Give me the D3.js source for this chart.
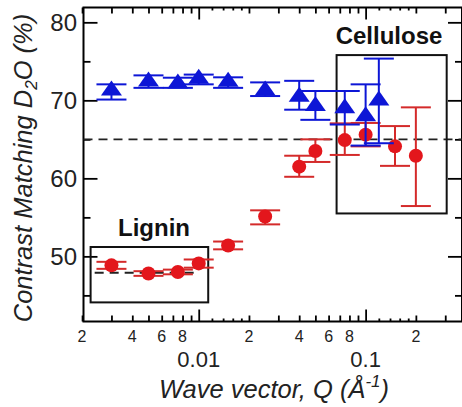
<!DOCTYPE html>
<html><head><meta charset="utf-8">
<script src="https://cdn.jsdelivr.net/npm/d3@7"></script>
<style>html,body{margin:0;padding:0;background:#fff;}svg{display:block;font-family:"Liberation Sans",Arial,sans-serif;}</style>
</head><body>
<svg id="chart" width="462" height="407"></svg>
<script>
// Blue triangles
const qBlue   = [0.003, 0.005, 0.0075, 0.01, 0.015, 0.025, 0.04, 0.05, 0.075, 0.1, 0.12];
const blueVal = [71.4, 72.55, 72.3, 72.9, 72.5, 71.4, 70.6, 69.4, 69.1, 68.1, 70.1];
const blueLo  = [70.1, 71.6, 71.6, 72.05, 71.6, 70.55, 68.8, 67.5, 66.9, 64.2, 64.5];
const blueHi  = [72.05, 73.2, 72.9, 73.3, 72.95, 72.3, 72.5, 71.2, 71.2, 72.05, 75.35];
// Red circles
const qRed   = [0.003, 0.005, 0.0075, 0.01, 0.015, 0.025, 0.04, 0.05, 0.075, 0.1, 0.15, 0.2];
const redVal = [48.85, 47.8, 48.0, 49.1, 51.4, 55.1, 61.5, 63.5, 64.9, 65.6, 64.1, 62.9];
const redLo  = [48.4, 47.5, 47.7, 48.55, 50.9, 54.1, 60.2, 62.1, 63.0, 64.1, 61.6, 56.45];
const redHi  = [49.3, 48.1, 48.3, 49.6, 51.9, 55.9, 62.9, 65.0, 67.05, 67.1, 66.7, 69.1];
// Reference lines / boxes
const refLine = 65;
const ligninLine = {q: [0.00238, 0.01], v: 47.9};
const ligninBox = {q: [0.00225, 0.0114], v: [44.1, 51.2]};
const celluloseBox = {q: [0.067, 0.306], v: [55.5, 75.8]};
// Ticks
const yMajor = [50, 60, 70, 80];
const yMinor = [45, 55, 65, 75];
const xMajor = [0.01, 0.1];
const xMid = [0.002,0.003,0.004,0.005,0.006,0.007,0.008,0.009,0.02,0.03,0.04,0.05,0.06,0.07,0.08,0.09,0.2,0.3];
const xSmall = [0.012,0.014,0.016,0.018,0.12,0.14,0.16,0.18];
const xSmallLabels = [{q:0.002,t:"2"},{q:0.004,t:"4"},{q:0.006,t:"6"},{q:0.008,t:"8"},{q:0.02,t:"2"},{q:0.04,t:"4"},{q:0.06,t:"6"},{q:0.08,t:"8"},{q:0.2,t:"2"}];
const xBigLabels = [{q:0.01,t:"0.01"},{q:0.1,t:"0.1"}];

const L = 83.5, R = 462, T = 7.5, B = 321.5;
const x = d3.scaleLog().domain([0.00204, 0.378]).range([L, R]);
const y = d3.scaleLinear().domain([41.65, 81.9]).range([B, T]);

const svg = d3.select("#chart");
const blue = "#0d16d6", red = "#e3161c", redBar = "#d42a2a";

// Frame
svg.append("rect").attr("x", L).attr("y", T).attr("width", R - L).attr("height", B - T)
  .attr("fill", "none").attr("stroke", "#000").attr("stroke-width", 2);

function ticksX(vals, len) {
  const gb = svg.append("g").attr("transform", `translate(0,${B})`)
    .call(d3.axisBottom(x).tickValues(vals).tickSize(-len).tickFormat(""));
  const gt = svg.append("g").attr("transform", `translate(0,${T})`)
    .call(d3.axisTop(x).tickValues(vals).tickSize(-len).tickFormat(""));
  [gb, gt].forEach(g => { g.select(".domain").remove(); g.selectAll("line").attr("stroke", "#000").attr("stroke-width", 1.8); });
}
ticksX(xMajor, 12);
ticksX(xMid, 6);
ticksX(xSmall, 3);
function ticksY(vals, len) {
  const gl = svg.append("g").attr("transform", `translate(${L},0)`)
    .call(d3.axisLeft(y).tickValues(vals).tickSize(-len).tickFormat(""));
  const gr = svg.append("g").attr("transform", `translate(${R},0)`)
    .call(d3.axisRight(y).tickValues(vals).tickSize(-len).tickFormat(""));
  [gl, gr].forEach(g => { g.select(".domain").remove(); g.selectAll("line").attr("stroke", "#000").attr("stroke-width", 1.8); });
}
ticksY(yMajor, 14);
ticksY(yMinor, 7);

// Labels
svg.selectAll("text.yl").data(yMajor).join("text").attr("class", "yl")
  .attr("x", 77).attr("y", d => y(d) + 8.5).attr("text-anchor", "end")
  .attr("font-size", 24).attr("fill", "#222").text(d => d);
svg.selectAll("text.xs").data(xSmallLabels).join("text").attr("class", "xs")
  .attr("x", d => x(d.q)).attr("y", 342).attr("text-anchor", "middle")
  .attr("font-size", 16).attr("fill", "#222").text(d => d.t);
svg.selectAll("text.xb").data(xBigLabels).join("text").attr("class", "xb")
  .attr("x", d => x(d.q)).attr("y", 367).attr("text-anchor", "middle")
  .attr("font-size", 22).attr("fill", "#222").text(d => d.t);

const xl = svg.append("text").attr("x", 274).attr("y", 398).attr("text-anchor", "middle")
  .attr("font-size", 25.5).attr("font-style", "italic").attr("fill", "#222");
xl.append("tspan").text("Wave vector, Q (Å");
xl.append("tspan").attr("font-size", 17).attr("dy", -11).text("-1");
xl.append("tspan").attr("dy", 11).text(")");

const yl = svg.append("text").attr("transform", "translate(32,168) rotate(-90)")
  .attr("text-anchor", "middle").attr("font-size", 25.5).attr("font-style", "italic").attr("fill", "#222");
yl.append("tspan").text("Contrast Matching D");
yl.append("tspan").attr("font-size", 17).attr("dy", 5).text("2");
yl.append("tspan").attr("dy", -5).text("O (%)");

// Reference dashed lines
svg.append("line").attr("x1", L).attr("x2", R).attr("y1", y(refLine)).attr("y2", y(refLine))
  .attr("stroke", "#222").attr("stroke-width", 1.8).attr("stroke-dasharray", "9,6");
svg.append("line").attr("x1", x(ligninLine.q[0])).attr("x2", x(ligninLine.q[1]))
  .attr("y1", y(ligninLine.v)).attr("y2", y(ligninLine.v))
  .attr("stroke", "#222").attr("stroke-width", 1.8).attr("stroke-dasharray", "9,6");

// Boxes
[ligninBox, celluloseBox].forEach(b => {
  svg.append("rect").attr("x", x(b.q[0])).attr("y", y(b.v[1]))
    .attr("width", x(b.q[1]) - x(b.q[0])).attr("height", y(b.v[0]) - y(b.v[1]))
    .attr("fill", "none").attr("stroke", "#111").attr("stroke-width", 2);
});
svg.append("text").attr("x", 154).attr("y", 236).attr("text-anchor", "middle")
  .attr("font-size", 24).attr("font-weight", "bold").attr("fill", "#111").text("Lignin");
svg.append("text").attr("x", 389).attr("y", 44).attr("text-anchor", "middle")
  .attr("font-size", 24).attr("font-weight", "bold").attr("fill", "#111").text("Cellulose");

// Error bars
function errBars(qs, lo, hi, color) {
  const g = svg.append("g").attr("stroke", color).attr("stroke-width", 2).attr("fill", "none");
  qs.forEach((q, i) => {
    const cx = x(q);
    g.append("line").attr("x1", cx).attr("x2", cx).attr("y1", y(lo[i])).attr("y2", y(hi[i]));
    g.append("line").attr("x1", cx - 15).attr("x2", cx + 15).attr("y1", y(lo[i])).attr("y2", y(lo[i]));
    g.append("line").attr("x1", cx - 15).attr("x2", cx + 15).attr("y1", y(hi[i])).attr("y2", y(hi[i]));
  });
}
errBars(qRed, redLo, redHi, redBar);
svg.append("g").selectAll("circle").data(qRed).join("circle")
  .attr("cx", d => x(d)).attr("cy", (d, i) => y(redVal[i])).attr("r", 7).attr("fill", red);

errBars(qBlue, blueLo, blueHi, blue);
svg.append("g").selectAll("path").data(qBlue).join("path")
  .attr("transform", (d, i) => `translate(${x(d)},${y(blueVal[i])})`)
  .attr("d", "M0,-9L10.5,6L-10.5,6Z").attr("fill", blue);
</script>
</body></html>
